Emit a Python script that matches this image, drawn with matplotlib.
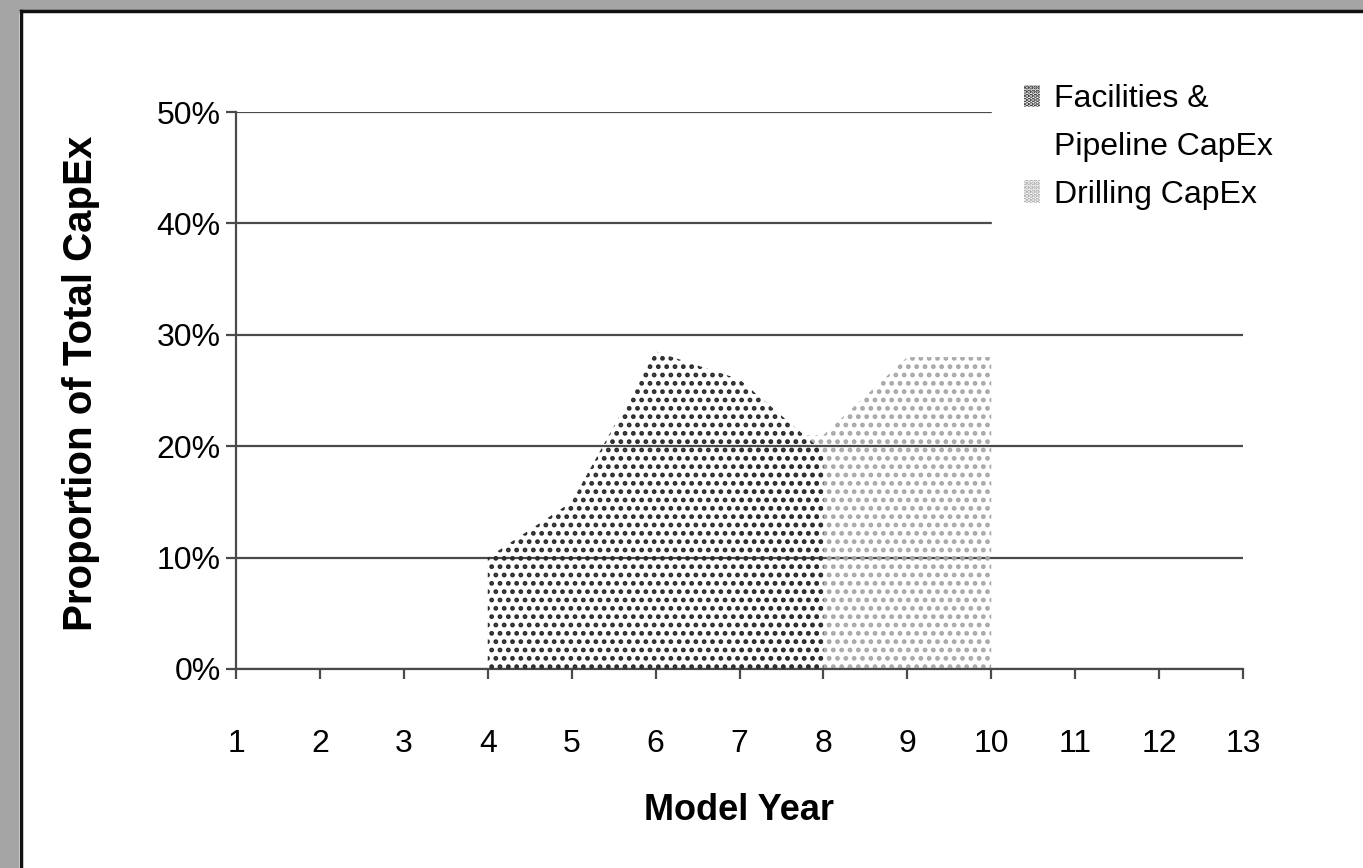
import matplotlib
matplotlib.use('Agg')
import matplotlib.pyplot as plt
import matplotlib.patches as mpatches
from matplotlib.lines import Line2D

plt.rcParams['font.family'] = ['Liberation Sans', 'DejaVu Sans']
plt.rcParams['hatch.linewidth'] = 2.2

# Data (share of total CapEx, %)
years = list(range(1, 14))
fac_years = [4, 5, 6, 7, 8]
fac_share = [10, 15, 28.5, 26, 19.5]
drill_years = [7, 8, 9, 10]
drill_share = [21, 21, 28, 28]
y_ticks = [0, 10, 20, 30, 40, 50]

fig = plt.figure(figsize=(13.63, 8.68), dpi=100)
fig.patch.set_facecolor('white')

# scanned page edge (grey band + black frame line)
fig.add_artist(mpatches.Rectangle((0, 1 - 11/868), 1, 11/868, transform=fig.transFigure,
                                  facecolor='#a5a5a5', edgecolor='none'))
fig.add_artist(mpatches.Rectangle((0, 0), 19/1363, 1, transform=fig.transFigure,
                                  facecolor='#a5a5a5', edgecolor='none'))
fig.add_artist(Line2D([21/1363, 21/1363], [0, 1 - 11/868], transform=fig.transFigure,
                      color='#111111', lw=2.5))
fig.add_artist(Line2D([21/1363, 1], [1 - 11/868, 1 - 11/868], transform=fig.transFigure,
                      color='#111111', lw=2.5))

ax = fig.add_axes([236/1363, 1 - 669/868, (1243 - 236)/1363, (669 - 112)/868])

dark = '#2a2a2a'
light = '#a8a8a8'
ax.fill_between(drill_years, 0, drill_share, facecolor='none', edgecolor=light,
                hatch='..', linewidth=0, zorder=2)
ax.fill_between(fac_years, 0, fac_share, facecolor='none', edgecolor=dark,
                hatch='..', linewidth=0, zorder=3)

ax.set_xlim(1, 13)
ax.set_ylim(0, 50)
ax.set_xticks(years)
ax.set_yticks(y_ticks)
ax.set_yticklabels([f'{v}%' for v in y_ticks])

ax.yaxis.grid(True, color='#4a4a4a', linewidth=1.6)
ax.set_axisbelow(True)
for s in ['top', 'right']:
    ax.spines[s].set_visible(False)
for s in ['left', 'bottom']:
    ax.spines[s].set_color('#4a4a4a')
    ax.spines[s].set_linewidth(1.6)

ax.tick_params(axis='x', direction='out', length=7, width=1.6, color='#4a4a4a',
               pad=36, labelsize=23)
ax.tick_params(axis='y', direction='out', length=7, width=1.6, color='#4a4a4a',
               pad=4, labelsize=23)

ax.set_xlabel('Model Year', fontsize=26, fontweight='bold')
ax.xaxis.set_label_coords(0.5, -0.222)
ax.set_ylabel('Proportion of Total CapEx', fontsize=29, fontweight='bold')
ax.yaxis.set_label_coords(-0.135, 0.512)

# legend: first label split so the marker sits next to the first line
h_fac = mpatches.Patch(facecolor='white', edgecolor=dark, hatch='....', linewidth=0)
h_blank = mpatches.Patch(facecolor='none', edgecolor='none')
h_drill = mpatches.Patch(facecolor='white', edgecolor=light, hatch='....', linewidth=0)
leg = fig.legend([h_fac, h_blank, h_drill],
                 ['Facilities &', 'Pipeline CapEx', 'Drilling CapEx'],
                 loc='upper left', bbox_to_anchor=(992/1363, 1 - 52/868),
                 fontsize=23, frameon=True, facecolor='white', edgecolor='white',
                 framealpha=1, fancybox=False, handlelength=0.5, handleheight=0.7,
                 handletextpad=0.45, labelspacing=0.56, borderpad=1.0,
                 borderaxespad=0)
leg.set_zorder(10)

fig.savefig('out.png', dpi=100)
